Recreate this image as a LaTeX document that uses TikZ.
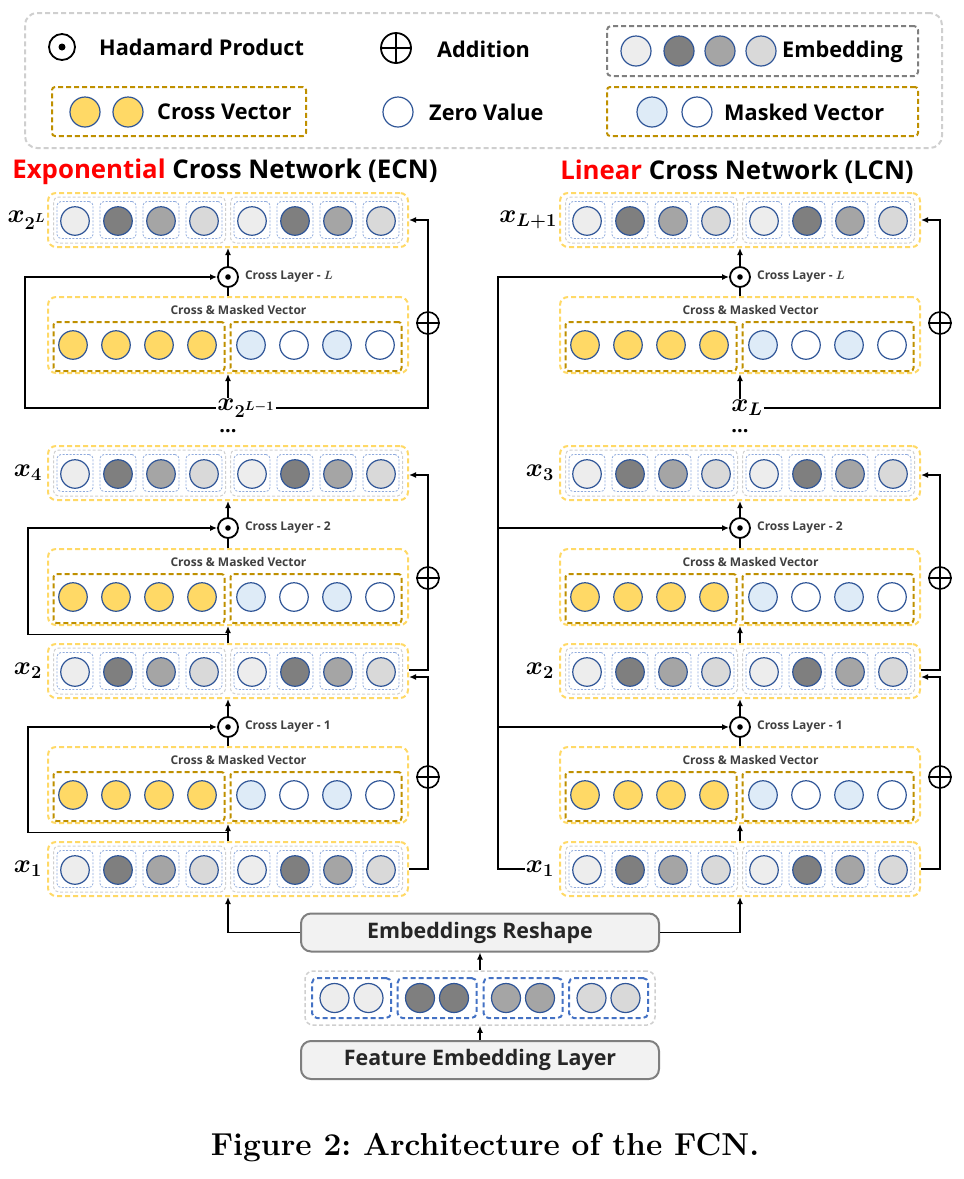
\RequirePackage{fix-cm}
\documentclass[tikz,border=0pt]{standalone}
\usepackage{fontspec}
\newfontfamily\labfont{Open Sans}
\usepackage{amsmath,bm}
\usetikzlibrary{arrows.meta,calc}

\definecolor{ygold}{HTML}{FFD966}
\definecolor{dgold}{HTML}{BF9000}
\definecolor{cblue}{HTML}{2F5597}
\definecolor{lblue}{HTML}{8FAADC}
\definecolor{mblue}{HTML}{4472C4}
\definecolor{gline}{HTML}{CFCFCF}
\definecolor{eA}{HTML}{EDEDED}
\definecolor{eB}{HTML}{7F7F7F}
\definecolor{eC}{HTML}{A5A5A5}
\definecolor{eD}{HTML}{D9D9D9}
\definecolor{mask}{HTML}{DEEBF7}
\definecolor{boxfill}{HTML}{F2F2F2}
\definecolor{boxline}{HTML}{7F7F7F}
\definecolor{txt}{HTML}{404040}

\tikzset{
  rowbox/.style={draw=ygold, line width=2pt, dash pattern=on 5pt off 3pt, rounded corners=8pt,
    minimum width=360pt, minimum height=54pt, inner sep=0pt},
  crossbox/.style={rowbox, minimum height=76pt},
  grpbox/.style={draw=gline, line width=1pt, dash pattern=on 3pt off 2pt, rounded corners=5pt,
    minimum width=172pt, minimum height=46pt, inner sep=0pt},
  cellbox/.style={draw=lblue, line width=0.8pt, dash pattern=on 2pt off 1.5pt, rounded corners=4pt,
    minimum width=36pt, minimum height=37pt, inner sep=0pt},
  goldbox/.style={draw=dgold, line width=2pt, dash pattern=on 5pt off 3pt, rounded corners=3pt,
    minimum width=171pt, minimum height=49pt, inner sep=0pt},
  embc/.style={circle, draw=cblue, line width=1.2pt, minimum size=28.5pt, inner sep=0pt},
  legc/.style={embc, minimum size=30pt},
  hada/.style={circle, draw, fill=white, line width=1.8pt, minimum size=20pt, inner sep=0pt},
  plus/.style={circle, draw, fill=white, line width=1.6pt, minimum size=22pt, inner sep=0pt},
  conn/.style={line width=1.8pt, draw=black},
  arr/.style={conn, -{Latex[length=7pt,width=6pt]}},
  smalltxt/.style={text=txt, font=\labfont\bfseries\fontsize{12}{14}\selectfont, inner sep=1pt},
  legtxt/.style={font=\labfont\bfseries\fontsize{21.7}{24}\selectfont, inner sep=0pt},
  ttl/.style={font=\labfont\bfseries\fontsize{25.8}{30}\selectfont, inner sep=0pt},
  xlab/.style={font=\fontsize{26}{28}\selectfont, inner sep=1pt},
  layerbox/.style={draw=boxline, fill=boxfill, line width=2pt, rounded corners=10pt,
    minimum width=358pt, minimum height=38pt, inner sep=0pt, text=black!85,
    font=\labfont\bfseries\fontsize{21.4}{26}\selectfont},
}

% one embedding row: outer box, two groups, eight cells
\newcommand{\EmbRow}[3]{%
  \node[rowbox] (#1) at (#2,#3) {};
  \node[grpbox] (#1-gA) at ($(#2,#3)+(-88.5,0)$) {};
  \node[grpbox] (#1-gB) at ($(#2,#3)+(88.5,0)$) {};
  \foreach \dx/\fc [count=\i] in {-153/eA,-110/eB,-67/eC,-24/eD,24/eA,67/eB,110/eC,153/eD}{%
    \node[cellbox] (#1-b\i) at ($(#2,#3)+(\dx,0)$) {};
    \node[embc, fill=\fc] (#1-c\i) at ($(#2,#3)+(\dx,1)$) {};
  }%
}
% one cross & masked vector row
\newcommand{\CrossRow}[3]{%
  \node[crossbox] (#1) at (#2,#3) {};
  \node[smalltxt] (#1-t) at ($(#2,#3)+(10.5,-25)$) {Cross \& Masked Vector};
  \node[goldbox] (#1-gA) at ($(#2,#3)+(-89,11.5)$) {};
  \node[goldbox] (#1-gB) at ($(#2,#3)+(88,11.5)$) {};
  \foreach \dx/\fc [count=\i] in {-155/ygold,-112/ygold,-69/ygold,-26/ygold,23/mask,66/white,109/mask,152/white}{%
    \node[embc, fill=\fc] (#1-c\i) at ($(#2,#3)+(\dx,10)$) {};
  }%
}
% Hadamard product symbol with its label
\newcommand{\Hada}[4]{%
  \node[hada] (#1) at (#2,#3) {};
  \fill (#1.center) circle (2.8);
  \node[smalltxt, anchor=west] (#1-t) at ($(#1.east)+(5,0)$) {#4};
}
% addition symbol
\newcommand{\Plus}[3]{%
  \node[plus] (#1) at (#2,#3) {};
  \draw[line width=1.6pt] (#1.north) -- (#1.south) (#1.west) -- (#1.east);
}

\begin{document}
\frenchspacing
\begin{tikzpicture}[x=1pt, y=-1pt]
\useasboundingbox (0,0) rectangle (964,1179);

% ---------- legend ----------
\node[draw=gline, line width=2pt, dash pattern=on 5pt off 3pt, rounded corners=12pt,
  minimum width=917pt, minimum height=135pt] (legend) at (483.5,80.5) {};
\node[hada, minimum size=26pt] (legH) at (62,47) {};
\fill (legH.center) circle (3.5);
\node[legtxt, anchor=west] (legHt) at (99,47) {Hadamard Product};
\node[plus, minimum size=30pt, line width=1.8pt] (legP) at (396,48) {};
\draw[line width=1.8pt] (legP.north) -- (legP.south) (legP.west) -- (legP.east);
\node[legtxt, anchor=west] (legPt) at (437,49) {Addition};

\node[draw=boxline, line width=2pt, dash pattern=on 5pt off 3pt, rounded corners=4pt,
  minimum width=311pt, minimum height=50pt] (legE) at (762.5,51) {};
\node[legc, fill=eA] (legE1) at (636,51) {};
\node[legc, fill=eB] (legE2) at (679,51) {};
\node[legc, fill=eC] (legE3) at (720,51) {};
\node[legc, fill=eD] (legE4) at (761,51) {};
\node[legtxt, anchor=west] (legEt) at (782,52) {Embedding};

\node[goldbox, minimum width=254pt] (legC) at (179,111.5) {};
\node[legc, fill=ygold] (legC1) at (85,112) {};
\node[legc, fill=ygold] (legC2) at (128,112) {};
\node[legtxt, anchor=west] (legCt) at (157,112) {Cross Vector};

\node[legc, fill=white] (legZ) at (398,112) {};
\node[legtxt, anchor=west] (legZt) at (429,112) {Zero Value};

\node[goldbox, minimum width=311pt] (legM) at (762.5,111.5) {};
\node[legc, fill=mask] (legM1) at (652,112) {};
\node[legc, fill=white] (legM2) at (697,112) {};
\node[legtxt, anchor=west] (legMt) at (724,112) {Masked Vector};

% ---------- titles ----------
\node[ttl] (ecnTitle) at (225,172) {\textcolor{red}{Exponential} Cross Network (ECN)};
\node[ttl] (lcnTitle) at (737,172) {\textcolor{red}{Linear} Cross Network (LCN)};

% ---------- exponential cross network ----------
\EmbRow{ecnTop}{228}{220}
\Hada{ecnHL}{228}{277}{Cross Layer - $\bm{L}$}
\CrossRow{ecnCL}{228}{335}
\node[xlab] (ecnLab) at (246,408) {$\bm{x}_{\bm{2^{L-1}}}$};
\node[ttl, font=\labfont\bfseries\fontsize{20}{24}\selectfont] (ecnDots) at (228,431) {...};
\EmbRow{ecnX4}{228}{473}
\Hada{ecnH2}{228}{528}{Cross Layer - 2}
\CrossRow{ecnC2}{228}{587}
\EmbRow{ecnX2}{228}{671}
\Hada{ecnH1}{228}{727}{Cross Layer - 1}
\CrossRow{ecnC1}{228}{785}
\EmbRow{ecnX1}{228}{869}

\node[xlab, anchor=east] (ecnTopL) at (47,220) {$\bm{x}_{\bm{2^L}}$};
\node[xlab, anchor=east] (ecnX4L) at (43,473) {$\bm{x}_{\bm{4}}$};
\node[xlab, anchor=east] (ecnX2L) at (43,671) {$\bm{x}_{\bm{2}}$};
\node[xlab, anchor=east] (ecnX1L) at (43,869) {$\bm{x}_{\bm{1}}$};

% ---------- linear cross network ----------
\EmbRow{lcnTop}{740}{220}
\Hada{lcnHL}{740}{277}{Cross Layer - $\bm{L}$}
\CrossRow{lcnCL}{740}{335}
\node[xlab] (lcnLab) at (747,408) {$\bm{x}_{\bm{L}}$};
\node[ttl, font=\labfont\bfseries\fontsize{20}{24}\selectfont] (lcnDots) at (740,431) {...};
\EmbRow{lcnX3}{740}{473}
\Hada{lcnH2}{740}{528}{Cross Layer - 2}
\CrossRow{lcnC2}{740}{587}
\EmbRow{lcnX2}{740}{671}
\Hada{lcnH1}{740}{727}{Cross Layer - 1}
\CrossRow{lcnC1}{740}{785}
\EmbRow{lcnX1}{740}{869}

\node[xlab, anchor=east] (lcnTopL) at (558,220) {$\bm{x}_{\bm{L+1}}$};
\node[xlab, anchor=east] (lcnX3L) at (555,473) {$\bm{x}_{\bm{3}}$};
\node[xlab, anchor=east] (lcnX2L) at (555,671) {$\bm{x}_{\bm{2}}$};
\node[xlab, anchor=east] (lcnX1L) at (555,869) {$\bm{x}_{\bm{1}}$};

% ---------- shared input ----------
\node[layerbox] (reshape) at (480,932.5) {Embeddings Reshape};
\node[draw=gline, line width=1.5pt, dash pattern=on 4pt off 2.5pt, rounded corners=8pt,
  minimum width=350pt, minimum height=54pt] (embgrp) at (480,998) {};
\foreach \bx/\fc [count=\i] in {-128.5/eA,-43/eB,43/eC,128.5/eD}{%
  \node[draw=mblue, line width=2pt, dash pattern=on 5pt off 3pt, rounded corners=5pt,
    minimum width=79pt, minimum height=40pt] (embg-\i) at ($(480,998)+(\bx,0)$) {};
  \node[embc, minimum size=29pt, fill=\fc] (embg-\i a) at ($(embg-\i.center)+(-17,0)$) {};
  \node[embc, minimum size=29pt, fill=\fc] (embg-\i b) at ($(embg-\i.center)+(17,0)$) {};
}
\node[layerbox] (feature) at (480,1060) {Feature Embedding Layer};

\draw[arr] (feature.north) -- (embgrp.south);
\draw[arr] (embgrp.north) -- (reshape.south);
\draw[arr] (reshape.west) -| (ecnX1.south);
\draw[arr] (reshape.east) -| (lcnX1.south);

% ---------- ECN connectors ----------
\coordinate (ecnRx) at (428,0);
\coordinate (ecnLx) at (28,0);
\coordinate (ecnLx0) at (25,0);
% vertical chain
\draw[arr] (ecnX1.north) -- (ecnC1.south);
\draw[conn] (ecnC1.north) -- (ecnH1.south);
\draw[arr] (ecnH1.north) -- (ecnX2.south);
\draw[arr] (ecnX2.north) -- (ecnC2.south);
\draw[conn] (ecnC2.north) -- (ecnH2.south);
\draw[arr] (ecnH2.north) -- (ecnX4.south);
\draw[arr] (ecnCL.south |- ecnLab.north) -- (ecnCL.south);
\draw[conn] (ecnCL.north) -- (ecnHL.south);
\draw[arr] (ecnHL.north) -- (ecnTop.south);
% loops into the Hadamard products
\coordinate (ecnJ1) at ($(ecnX1.north)!0.5!(ecnC1.south)$);
\coordinate (ecnJ2) at ($(ecnX2.north)!0.5!(ecnC2.south)$);
\draw[arr] (ecnJ1) -- (ecnJ1 -| ecnLx) |- (ecnH1.west);
\draw[arr] (ecnJ2) -- (ecnJ2 -| ecnLx) |- (ecnH2.west);
\draw[arr] (ecnLab.west) -- (ecnLab.west -| ecnLx0) |- (ecnHL.west);
% residual additions
\draw[arr] (ecnX1.east) -- (ecnX1.east -| ecnRx) |- ([yshift=-6pt]ecnX2.east);
\draw[arr] ([yshift=1pt]ecnX2.east) -- ([yshift=1pt]ecnX2.east -| ecnRx) |- ([yshift=-2pt]ecnX4.east);
\draw[arr] (ecnLab.east) -- (ecnLab.east -| ecnRx) |- (ecnTop.east);
\Plus{ecnP1}{428}{777}
\Plus{ecnP2}{428}{578}
\Plus{ecnPL}{428}{323}

% ---------- LCN connectors ----------
\coordinate (lcnRx) at (940,0);
\coordinate (lcnLx) at (498,0);
\draw[arr] (lcnX1.north) -- (lcnC1.south);
\draw[conn] (lcnC1.north) -- (lcnH1.south);
\draw[arr] (lcnH1.north) -- (lcnX2.south);
\draw[arr] (lcnX2.north) -- (lcnC2.south);
\draw[conn] (lcnC2.north) -- (lcnH2.south);
\draw[arr] (lcnH2.north) -- (lcnX3.south);
\draw[arr] (lcnCL.south |- lcnLab.north) -- (lcnCL.south);
\draw[conn] (lcnCL.north) -- (lcnHL.south);
\draw[arr] (lcnHL.north) -- (lcnTop.south);
% x_1 feeds every cross layer
\draw[arr] (lcnX1L.west) -- (lcnX1L.west -| lcnLx) |- (lcnHL.west);
\draw[arr] (lcnH1.west -| lcnLx) -- (lcnH1.west);
\draw[arr] (lcnH2.west -| lcnLx) -- (lcnH2.west);
% residual additions
\draw[arr] (lcnX1.east) -- (lcnX1.east -| lcnRx) |- ([yshift=-6pt]lcnX2.east);
\draw[arr] ([yshift=1pt]lcnX2.east) -- ([yshift=1pt]lcnX2.east -| lcnRx) |- ([yshift=-2pt]lcnX3.east);
\draw[arr] (lcnLab.east) -- (lcnLab.east -| lcnRx) |- (lcnTop.east);
\Plus{lcnP1}{940}{777}
\Plus{lcnP2}{940}{578}
\Plus{lcnPL}{940}{323}

% ---------- caption ----------
\node[font=\bfseries\fontsize{31.7}{36}\selectfont, inner sep=0pt] (caption) at (485,1148)
  {Figure 2: Architecture of the FCN.};
\end{tikzpicture}
\end{document}
